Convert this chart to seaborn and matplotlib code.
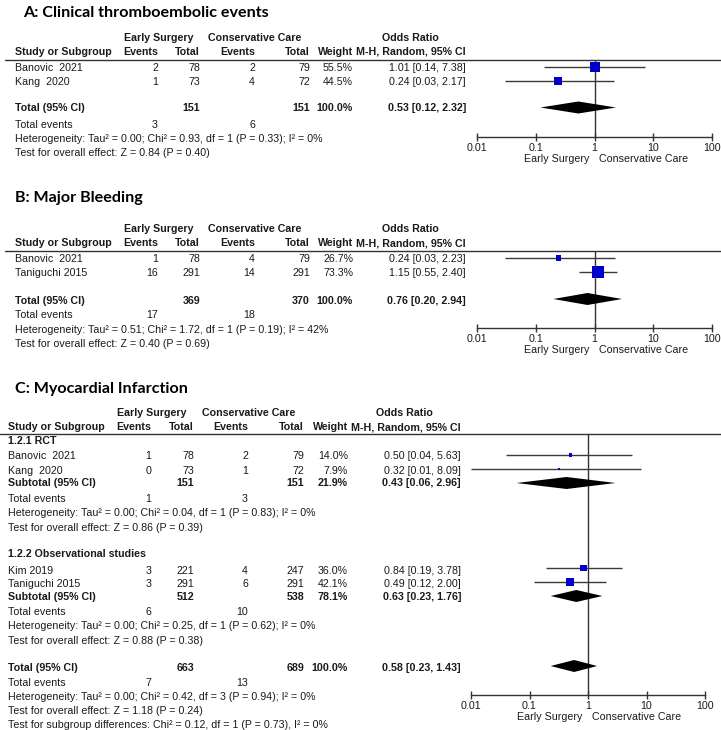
import numpy as np
import pandas as pd
import matplotlib.pyplot as plt
from matplotlib.lines import Line2D
import seaborn as sns

W, H = 721, 730
FS = 7.7
TXT = '#1a1a1a'

# A: Clinical thromboembolic events
a_study = ['Banovic  2021', 'Kang  2020']
a_es_ev = [2, 1]
a_es_n = [78, 73]
a_cc_ev = [2, 4]
a_cc_n = [79, 72]
a_weight = [55.5, 44.5]
a_or = [1.01, 0.24]
a_lo = [0.14, 0.03]
a_hi = [7.38, 2.17]
a_tot_n = [151, 151]
a_tot_or = [0.53, 0.12, 2.32]
a_events = [3, 6]
a_het = 'Heterogeneity: Tau² = 0.00; Chi² = 0.93, df = 1 (P = 0.33); I² = 0%'
a_test = 'Test for overall effect: Z = 0.84 (P = 0.40)'

# B: Major Bleeding
b_study = ['Banovic  2021', 'Taniguchi 2015']
b_es_ev = [1, 16]
b_es_n = [78, 291]
b_cc_ev = [4, 14]
b_cc_n = [79, 291]
b_weight = [26.7, 73.3]
b_or = [0.24, 1.15]
b_lo = [0.03, 0.55]
b_hi = [2.23, 2.40]
b_tot_n = [369, 370]
b_tot_or = [0.76, 0.20, 2.94]
b_events = [17, 18]
b_het = 'Heterogeneity: Tau² = 0.51; Chi² = 1.72, df = 1 (P = 0.19); I² = 42%'
b_test = 'Test for overall effect: Z = 0.40 (P = 0.69)'

# C: Myocardial Infarction, subgroup 1.2.1 RCT
c1_study = ['Banovic  2021', 'Kang  2020']
c1_es_ev = [1, 0]
c1_es_n = [78, 73]
c1_cc_ev = [2, 1]
c1_cc_n = [79, 72]
c1_weight = [14.0, 7.9]
c1_or = [0.50, 0.32]
c1_lo = [0.04, 0.01]
c1_hi = [5.63, 8.09]
c1_sub_n = [151, 151]
c1_sub_w = 21.9
c1_sub_or = [0.43, 0.06, 2.96]
c1_events = [1, 3]
c1_het = 'Heterogeneity: Tau² = 0.00; Chi² = 0.04, df = 1 (P = 0.83); I² = 0%'
c1_test = 'Test for overall effect: Z = 0.86 (P = 0.39)'

# subgroup 1.2.2 Observational studies
c2_study = ['Kim 2019', 'Taniguchi 2015']
c2_es_ev = [3, 3]
c2_es_n = [221, 291]
c2_cc_ev = [4, 6]
c2_cc_n = [247, 291]
c2_weight = [36.0, 42.1]
c2_or = [0.84, 0.49]
c2_lo = [0.19, 0.12]
c2_hi = [3.78, 2.00]
c2_sub_n = [512, 538]
c2_sub_w = 78.1
c2_sub_or = [0.63, 0.23, 1.76]
c2_events = [6, 10]
c2_het = 'Heterogeneity: Tau² = 0.00; Chi² = 0.25, df = 1 (P = 0.62); I² = 0%'
c2_test = 'Test for overall effect: Z = 0.88 (P = 0.38)'

c_tot_n = [663, 689]
c_tot_or = [0.58, 0.23, 1.43]
c_events = [7, 13]
c_het = 'Heterogeneity: Tau² = 0.00; Chi² = 0.42, df = 3 (P = 0.94); I² = 0%'
c_test = 'Test for overall effect: Z = 1.18 (P = 0.24)'
c_sub = 'Test for subgroup differences: Chi² = 0.12, df = 1 (P = 0.73), I² = 0%'

sns.set_theme(style='white')
plt.rcParams['font.family'] = ['Liberation Sans', 'DejaVu Sans']

fig = plt.figure(figsize=(W / 100, H / 100), dpi=100)
fig.patch.set_facecolor('white')


def txt(x, y, s, ha='left', bold=False, size=FS, **kw):
    fig.text(x / W, 1 - y / H, s, ha=ha, va='center', fontsize=size,
             fontweight='bold' if bold else 'normal', color=kw.pop('color', TXT), **kw)


def title(x, y, s):
    fig.text(x / W, 1 - y / H, s, ha='left', va='center', fontsize=11.6,
             fontweight='bold', family=['Lato', 'DejaVu Sans'], color='black')


cols_ab = dict(study=15, es_ev=158, es_n=200, cc_ev=255, cc_n=310, w=353, orr=466,
               es_hdr=159, cc_hdr=255, or_hdr=410)
cols_c = dict(study=8, es_ev=151, es_n=194, cc_ev=248, cc_n=304, w=348, orr=461,
              es_hdr=152, cc_hdr=249, or_hdr=404)


def header(c, y1, y2, line_y, x0):
    txt(c['es_hdr'], y1, 'Early Surgery', ha='center', bold=True)
    txt(c['cc_hdr'], y1, 'Conservative Care', ha='center', bold=True)
    txt(c['or_hdr'], y1, 'Odds Ratio', ha='center', bold=True)
    txt(c['study'], y2, 'Study or Subgroup', bold=True)
    txt(c['es_ev'], y2, 'Events', ha='right', bold=True)
    txt(c['es_n'], y2, 'Total', ha='right', bold=True)
    txt(c['cc_ev'], y2, 'Events', ha='right', bold=True)
    txt(c['cc_n'], y2, 'Total', ha='right', bold=True)
    txt(c['w'], y2, 'Weight', ha='right', bold=True)
    txt(c['orr'], y2, 'M-H, Random, 95% CI', ha='right', bold=True)
    fig.add_artist(Line2D([x0 / W, 1], [1 - line_y / H] * 2, color='#333333', lw=1))


def study_rows(c, ys, names, ev1, n1, ev2, n2, wts, ors, los, his):
    for y, nm, e1, t1, e2, t2, w, o, lo, hi in zip(ys, names, ev1, n1, ev2, n2, wts, ors, los, his):
        txt(c['study'], y, nm)
        txt(c['es_ev'], y, str(e1), ha='right')
        txt(c['es_n'], y, str(t1), ha='right')
        txt(c['cc_ev'], y, str(e2), ha='right')
        txt(c['cc_n'], y, str(t2), ha='right')
        txt(c['w'], y, f'{w:.1f}%', ha='right')
        txt(c['orr'], y, f'{o:.2f} [{lo:.2f}, {hi:.2f}]', ha='right')


def total_row(c, y, label, ns, w, orr):
    txt(c['study'], y, label, bold=True)
    txt(c['es_n'], y, str(ns[0]), ha='right', bold=True)
    txt(c['cc_n'], y, str(ns[1]), ha='right', bold=True)
    txt(c['w'], y, f'{w:.1f}%', ha='right', bold=True)
    txt(c['orr'], y, f'{orr[0]:.2f} [{orr[1]:.2f}, {orr[2]:.2f}]', ha='right', bold=True)


def foot_rows(c, ys, events, lines):
    txt(c['study'], ys[0], 'Total events')
    txt(c['es_ev'], ys[0], str(events[0]), ha='right')
    txt(c['cc_ev'], ys[0], str(events[1]), ha='right')
    for y, s in zip(ys[1:], lines):
        txt(c['study'], y, s)


def forest(x0, x1, ytop, ybot):
    ax = fig.add_axes([x0 / W, 1 - ybot / H, (x1 - x0) / W, (ybot - ytop) / H])
    ax.set_xscale('log')
    ax.set_xlim(0.01, 100)
    ax.set_ylim(ybot, ytop)
    ax.patch.set_alpha(0)
    for s in ['top', 'left', 'right']:
        ax.spines[s].set_visible(False)
    ax.spines['bottom'].set_color('#333333')
    ax.spines['bottom'].set_linewidth(1)
    ax.set_xticks([0.01, 0.1, 1, 10, 100])
    ax.set_xticklabels(['0.01', '0.1', '1', '10', '100'])
    ax.xaxis.set_minor_locator(plt.NullLocator())
    ax.set_yticks([])
    ax.tick_params(axis='x', direction='inout', length=6, width=1, color='#333333',
                   labelsize=FS, pad=1, labelcolor=TXT, bottom=True)
    ax.axvline(1, color='#333333', lw=1, zorder=1)
    ax.annotate('Early Surgery', xy=(1, 0), xycoords=('data', 'axes fraction'),
                xytext=(-4, -15.5), textcoords='offset points', ha='right', va='center',
                fontsize=FS, color=TXT)
    ax.annotate('Conservative Care', xy=(1, 0), xycoords=('data', 'axes fraction'),
                xytext=(3, -15.5), textcoords='offset points', ha='left', va='center',
                fontsize=FS, color=TXT)
    return ax


def squares(ax, ys, ors, los, his, wts):
    ax.hlines(ys, los, his, color='#3a3a3a', lw=1, zorder=2)
    side = (0.16 * np.array(wts) + 0.8) * 0.72
    df = pd.DataFrame({'or': ors, 'y': ys})
    sns.scatterplot(data=df, x='or', y='y', s=side ** 2, marker='s', color='#0000c8',
                    linewidth=0, ax=ax, legend=False, zorder=3)
    ax.set_xlabel('')
    ax.set_ylabel('')


def diamond(ax, y, orr, h=6):
    o, lo, hi = orr
    ax.fill([lo, o, hi, o], [y, y - h, y, y + h], color='black', lw=0, zorder=3)


# ---- panel A
title(23, 13, 'A: Clinical thromboembolic events')
header(cols_ab, 38, 52, 60, 5)
study_rows(cols_ab, [68, 82], a_study, a_es_ev, a_es_n, a_cc_ev, a_cc_n, a_weight, a_or, a_lo, a_hi)
total_row(cols_ab, 108, 'Total (95% CI)', a_tot_n, 100.0, a_tot_or)
foot_rows(cols_ab, [125, 139, 153], a_events, [a_het, a_test])
ax = forest(477, 712, 60, 137)
squares(ax, [67, 81], a_or, a_lo, a_hi, a_weight)
diamond(ax, 107.5, a_tot_or)

# ---- panel B
title(15, 198, 'B: Major Bleeding')
header(cols_ab, 229, 243, 251, 5)
study_rows(cols_ab, [259, 273], b_study, b_es_ev, b_es_n, b_cc_ev, b_cc_n, b_weight, b_or, b_lo, b_hi)
total_row(cols_ab, 301, 'Total (95% CI)', b_tot_n, 100.0, b_tot_or)
foot_rows(cols_ab, [315, 330, 344], b_events, [b_het, b_test])
ax = forest(477, 712, 251, 328)
squares(ax, [258, 272], b_or, b_lo, b_hi, b_weight)
diamond(ax, 299, b_tot_or)

# ---- panel C
title(15, 389, 'C: Myocardial Infarction')
header(cols_c, 413, 427, 434, 0)
txt(cols_c['study'], 441, '1.2.1 RCT', bold=True)
study_rows(cols_c, [456, 471], c1_study, c1_es_ev, c1_es_n, c1_cc_ev, c1_cc_n, c1_weight, c1_or, c1_lo, c1_hi)
total_row(cols_c, 483, 'Subtotal (95% CI)', c1_sub_n, c1_sub_w, c1_sub_or)
foot_rows(cols_c, [499, 513, 528], c1_events, [c1_het, c1_test])
txt(cols_c['study'], 554, '1.2.2 Observational studies', bold=True)
study_rows(cols_c, [571, 584], c2_study, c2_es_ev, c2_es_n, c2_cc_ev, c2_cc_n, c2_weight, c2_or, c2_lo, c2_hi)
total_row(cols_c, 597, 'Subtotal (95% CI)', c2_sub_n, c2_sub_w, c2_sub_or)
foot_rows(cols_c, [612, 626, 641], c2_events, [c2_het, c2_test])
total_row(cols_c, 668, 'Total (95% CI)', c_tot_n, 100.0, c_tot_or)
foot_rows(cols_c, [683, 697, 711, 725], c_events, [c_het, c_test, c_sub])
ax = forest(471, 705, 434, 695)
squares(ax, [455, 469], c1_or, c1_lo, c1_hi, c1_weight)
squares(ax, [568, 582], c2_or, c2_lo, c2_hi, c2_weight)
diamond(ax, 483, c1_sub_or)
diamond(ax, 596, c2_sub_or)
diamond(ax, 666, c_tot_or)

fig.savefig('out.png', dpi=100)
